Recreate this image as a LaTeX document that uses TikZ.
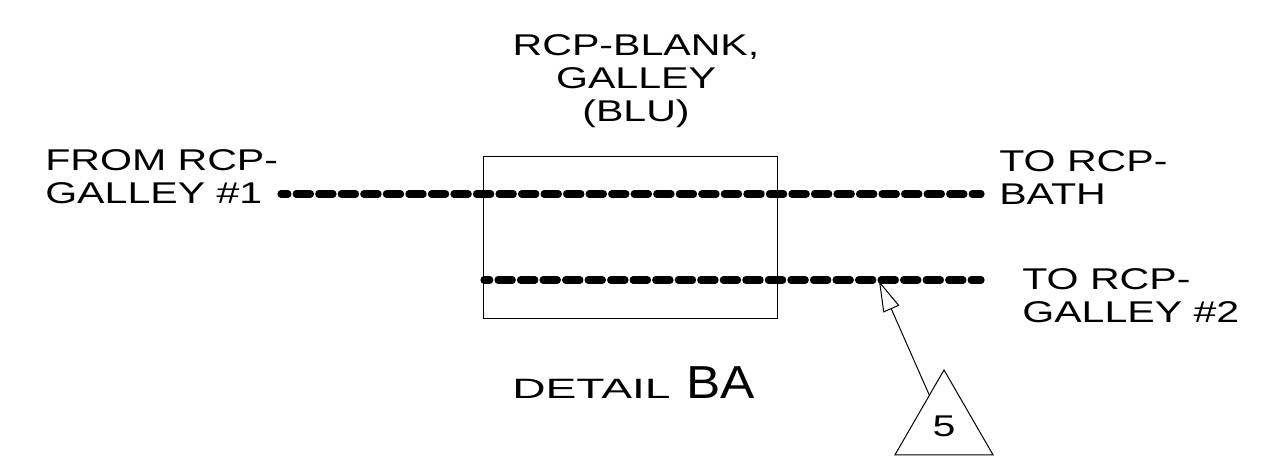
\documentclass[tikz,border=0pt]{standalone}
\usepackage{fontspec}
\setmainfont[FakeStretch=1.37]{Liberation Sans}
\newfontfamily\detailfont[FakeStretch=1.65]{Liberation Sans}
\newfontfamily\bigfont[FakeStretch=1.11]{Liberation Sans}
\usetikzlibrary{arrows.meta,shapes.geometric}

\tikzset{
    px/.style={x=0.75pt,y=-0.75pt},
    lbl/.style={inner sep=0pt,align=left,font=\fontsize{22.5}{24.75}\selectfont},
    wire/.style={line width=5.4pt,line cap=round,dash pattern=on 10.7pt off 6.2pt},
    thin line/.style={line width=0.75pt},
}

\begin{document}
\begin{tikzpicture}[px]

    \useasboundingbox (0, 0) rectangle (1274, 464);

    \node[draw=black,thin line,minimum width=220.5pt,minimum height=121.5pt,inner sep=0pt] (box) at (630, 237) {};

    \node[lbl,align=center,anchor=north] (title) at (636, 34) {RCP-BLANK,\\GALLEY\\(BLU)};
    \node[lbl,anchor=west] (from) at (45, 176.5) {FROM RCP-\\GALLEY \#1};
    \node[lbl,anchor=west] (bath) at (999, 177.5) {TO RCP-\\BATH};
    \node[lbl,anchor=west] (gal2) at (1022, 295.5) {TO RCP-\\GALLEY \#2};
    \node[inner sep=0pt,anchor=base west] (detail) at (512, 398) {\fontsize{21}{24}\detailfont DETAIL\hspace{12pt}\fontsize{34.7}{38}\bigfont BA};

    \coordinate (a1) at (281, 194);
    \coordinate (a2) at (981, 194);
    \coordinate (b1) at (484, 280);
    \coordinate (b2) at (981, 280);
    \path[draw,wire,dash phase=5.5pt] (a1) -- (a2);
    \path[draw,wire,dash phase=6.4pt] (b1) -- (b2);

    \node[draw=black,thin line,shape=regular polygon,regular polygon sides=3,minimum size=85pt,inner sep=0pt,font=\fontsize{22.5}{26}\selectfont] (tri) at (944, 426.6) {5};
    \coordinate (tip) at (879, 281);
    \draw[thin line,-{Triangle[open,length=23pt,width=13pt]}] (tri.115) -- (tip);

\end{tikzpicture}
\end{document}
